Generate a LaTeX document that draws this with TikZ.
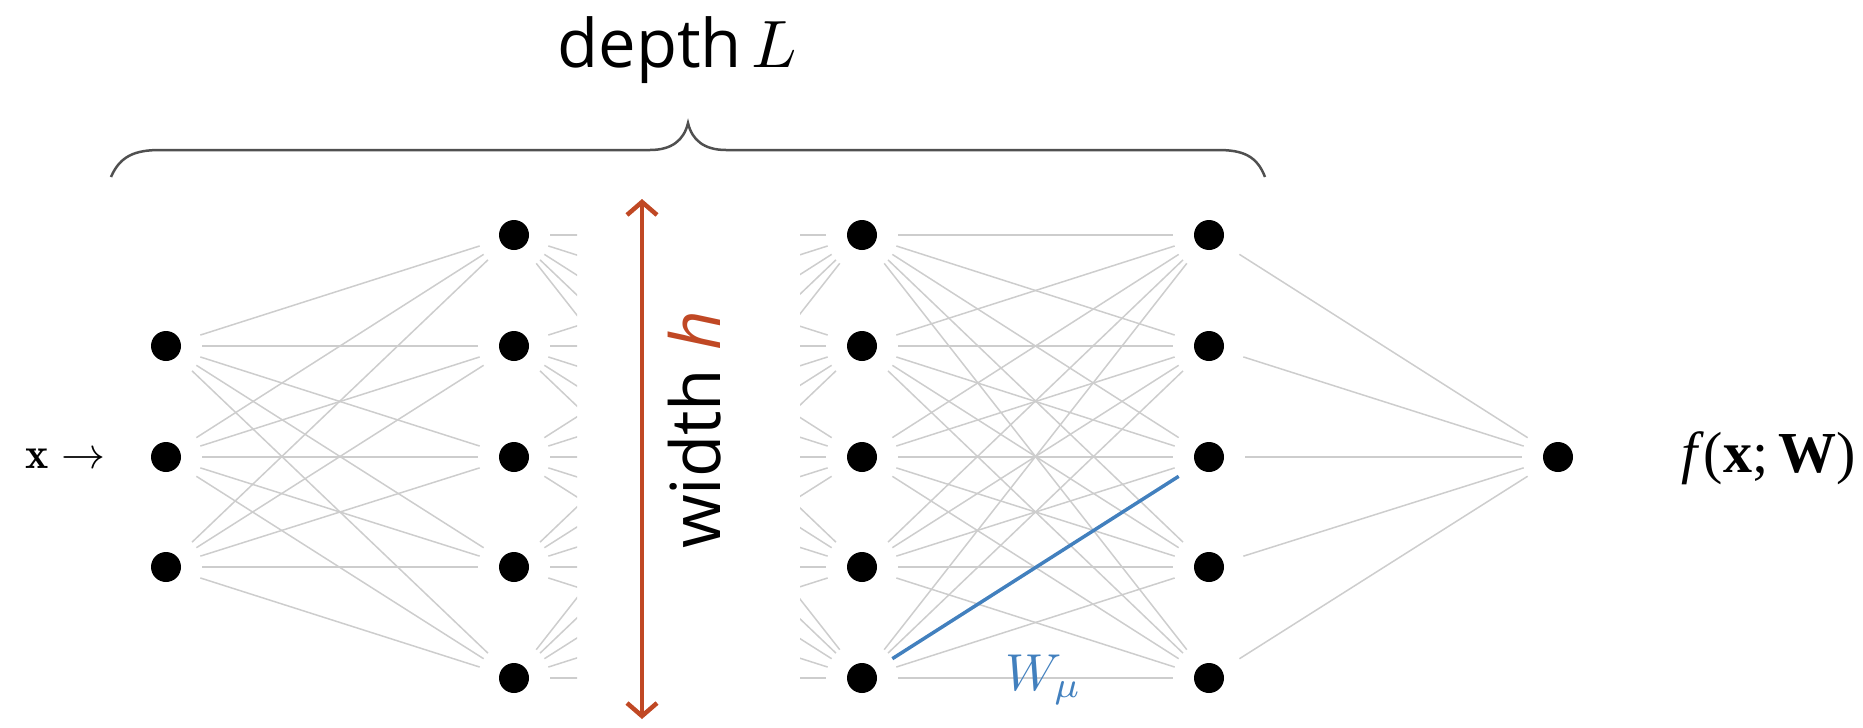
\documentclass[tikz,border=0pt]{standalone}
\usepackage{fontspec}
\newfontfamily\osans{Open Sans}
\newfontfamily\tnr{Liberation Serif}
\usetikzlibrary{arrows.meta}
\definecolor{edgegray}{RGB}{205,205,205}
\definecolor{wred}{RGB}{192,72,36}
\definecolor{wblue}{RGB}{66,128,190}
\definecolor{bracegray}{RGB}{80,80,80}
\begin{document}
\begin{tikzpicture}[x=1pt,y=-1pt,
  neuron/.style={circle,fill=black,minimum size=30pt,inner sep=0pt,outer sep=21pt},
  conn/.style={edgegray,line width=1.5pt},
  wedge/.style={wblue,line width=3.5pt},
  label/.style={inner sep=0pt,anchor=base west},
  widtharrow/.style={wred,line width=4.5pt,>={Straight Barb[length=13pt,width=30pt]},<->}
]
\useasboundingbox (0,0) rectangle (1863,728);
% neurons
\foreach \i/\y in {1/346,2/457,3/567}
  \node[neuron] (a\i) at (166,\y) {};
\foreach \i/\y in {1/235,2/346,3/457,4/567,5/678}{
  \node[neuron] (b\i) at (514,\y) {};
  \node[neuron] (c\i) at (862,\y) {};
  \node[neuron] (d\i) at (1209,\y) {};
}
\node[neuron] (o) at (1558,457) {};
% connections
\foreach \i in {1,2,3}
  \foreach \j in {1,...,5}
    \draw[conn] (a\i) -- (b\j);
\begin{scope}
  \clip (500,150) rectangle (577,720) (800,150) rectangle (900,720);
  \foreach \i in {1,...,5}
    \foreach \j in {1,...,5}
      \draw[conn] (b\i) -- (c\j);
\end{scope}
\foreach \i in {1,...,5}
  \foreach \j in {1,...,5}
    \draw[conn] (c\i) -- (d\j);
\foreach \i in {1,...,5}
  \draw[conn] (d\i) -- (o);
\draw[wedge] (c5) -- (d3);
% width arrow
\coordinate (wt) at (642,199);
\coordinate (wb) at (642,719);
\draw[widtharrow] (wt) -- (wb);
% brace
\coordinate (bl) at (111,177);
\coordinate (br) at (1265,177);
\coordinate (btip) at (688,123);
\draw[bracegray,line width=2.5pt]
  (bl) .. controls (120,156) and (135,150) .. (160,150) -- (650,150)
  .. controls (672,150) and (684,140) .. (btip)
  .. controls (692,140) and (704,150) .. (726,150) -- (1218,150)
  .. controls (1243,150) and (1257,156) .. (br);
% labels
\node[label,scale=6.7] (depth) at (556,67) {\osans depth\hspace{0.15em}$L$};
\node[inner sep=0pt,anchor=base,rotate=90,scale=6.9] (width) at (720,430)
  {\osans width {\color{wred}\itshape h}};
\node[label,scale=4.4] (xin) at (25,468) {$\mathbf{x}\to$};
\node[label,scale=5.8] (fout) at (1680,472) {\tnr\textit{f}(\textbf{x};\,\textbf{W})};
\node[label,text=wblue,scale=5.2] (wmu) at (1004,690) {$W_\mu$};
\end{tikzpicture}
\end{document}
